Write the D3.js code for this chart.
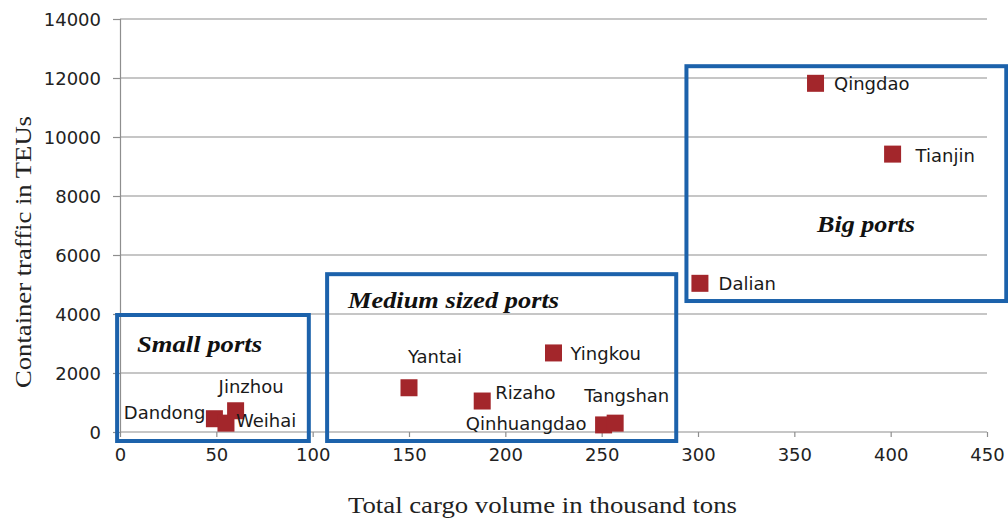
<!DOCTYPE html>
<html>
<head>
<meta charset="utf-8">
<script src="https://cdn.jsdelivr.net/npm/d3@7"></script>
<style>
  html, body { margin: 0; padding: 0; background: #fff; }
  svg { display: block; }
</style>
</head>
<body>
<svg id="chart" width="1008" height="524"></svg>
<script>
// ---- data ----
const ports = ["Dandong", "Weihai", "Jinzhou", "Yantai", "Rizaho", "Yingkou", "Qinhuangdao", "Tangshan", "Qingdao", "Tianjin", "Dalian"];
const cargoVolume = [49, 55, 60, 150, 188, 225, 251, 257, 361, 401, 301];
const containerTEU = [450, 300, 720, 1500, 1050, 2680, 240, 300, 11820, 9420, 5040];
const xTicks = [0, 50, 100, 150, 200, 250, 300, 350, 400, 450];
const yTicks = [0, 2000, 4000, 6000, 8000, 10000, 12000, 14000];
const groupNames = ["Small ports", "Medium sized ports", "Big ports"];
const groupX0 = [-1.5, 107.5, 294];
const groupX1 = [98, 288.7, 460];
const groupY0 = [-305, -305, 4440];
const groupY1 = [3966, 5350, 12400];
const xTitle = "Total cargo volume in thousand tons";
const yTitle = "Container traffic in TEUs";

// ---- layout (not data) ----
const labelLayout = {
  Dandong:     { dx: -9,  dy: 0,   anchor: "end" },
  Weihai:      { dx: 10,  dy: 4,   anchor: "start" },
  Jinzhou:     { dx: -17, dy: -18, anchor: "start" },
  Yantai:      { dx: -1,  dy: -25, anchor: "start" },
  Rizaho:      { dx: 13,  dy: -2,  anchor: "start" },
  Yingkou:     { dx: 17,  dy: 7,   anchor: "start" },
  Qinhuangdao: { dx: -17, dy: 5,   anchor: "end" },
  Tangshan:    { dx: -31, dy: -21, anchor: "start" },
  Qingdao:     { dx: 18.5,dy: 7,   anchor: "start" },
  Tianjin:     { dx: 23,  dy: 8,   anchor: "start" },
  Dalian:      { dx: 18.6,dy: 7,   anchor: "start" }
};
const groupLabelLayout = [
  { x: 137, y: 352, len: 125 },
  { x: 348, y: 308, len: 211 },
  { x: 817, y: 232, len: 98 }
];

const svg = d3.select("#chart");
const x = d3.scaleLinear().domain([0, 450]).range([120, 987]);
const y = d3.scaleLinear().domain([0, 14000]).range([432, 19]);

const gridColor = "#8e8e8e";
const sans = "'DejaVu Sans', sans-serif";
const serif = "'Liberation Serif', 'Times New Roman', serif";

// gridlines
svg.append("g").selectAll("line").data(yTicks.filter(d => d !== 0)).join("line")
  .attr("x1", x(0)).attr("x2", x(450))
  .attr("y1", d => y(d)).attr("y2", d => y(d))
  .attr("stroke", gridColor).attr("stroke-width", 1.2);

// y axis
const yAxis = d3.axisLeft(y).tickValues(yTicks).tickSize(7).tickPadding(12).tickFormat(d3.format("d"));
const gy = svg.append("g").attr("transform", `translate(${x(0)},0)`).call(yAxis);
gy.select(".domain").attr("stroke", gridColor).attr("stroke-width", 1.2);
gy.selectAll(".tick line").attr("stroke", gridColor).attr("stroke-width", 1.2);
gy.selectAll(".tick text").attr("font-family", sans).attr("font-size", 18).attr("fill", "#222").attr("dy", "0.36em");

// x axis
const xAxis = d3.axisBottom(x).tickValues(xTicks).tickSize(5).tickPadding(24).tickFormat(d3.format("d"));
const gx = svg.append("g").attr("transform", `translate(0,${y(0)})`).call(xAxis);
gx.select(".domain").attr("stroke", gridColor).attr("stroke-width", 1.2).attr("d", `M${x(0)},0H${x(450)}`);
gx.selectAll(".tick line").attr("stroke", gridColor).attr("stroke-width", 1.2);
gx.selectAll(".tick text").attr("font-family", sans).attr("font-size", 18).attr("fill", "#222").attr("dy", "0");

// group boxes
const groups = groupNames.map((n, i) => ({ name: n, x0: groupX0[i], x1: groupX1[i], y0: groupY0[i], y1: groupY1[i], pos: groupLabelLayout[i] }));
svg.append("g").selectAll("rect").data(groups).join("rect")
  .attr("x", d => x(d.x0)).attr("y", d => y(d.y1))
  .attr("width", d => x(d.x1) - x(d.x0)).attr("height", d => y(d.y0) - y(d.y1))
  .attr("fill", "none").attr("stroke", "#1c62ab").attr("stroke-width", 4);

svg.append("g").selectAll("text").data(groups).join("text")
  .attr("x", d => d.pos.x).attr("y", d => d.pos.y)
  .attr("textLength", d => d.pos.len).attr("lengthAdjust", "spacingAndGlyphs")
  .attr("font-family", serif).attr("font-size", 24).attr("font-weight", "bold").attr("font-style", "italic")
  .attr("fill", "#111").text(d => d.name);

// points
const pts = ports.map((p, i) => ({ name: p, cx: cargoVolume[i], cy: containerTEU[i] }));
const sz = 17;
svg.append("g").selectAll("rect").data(pts).join("rect")
  .attr("x", d => x(d.cx) - sz / 2).attr("y", d => y(d.cy) - sz / 2)
  .attr("width", sz).attr("height", sz).attr("fill", "#a3262b");

svg.append("g").selectAll("text").data(pts).join("text")
  .attr("x", d => x(d.cx) + labelLayout[d.name].dx)
  .attr("y", d => y(d.cy) + labelLayout[d.name].dy)
  .attr("text-anchor", d => labelLayout[d.name].anchor)
  .attr("font-family", sans).attr("font-size", 18).attr("fill", "#1a1a1a")
  .text(d => d.name);

// axis titles
svg.append("text").attr("x", 348).attr("y", 513)
  .attr("textLength", 389).attr("lengthAdjust", "spacingAndGlyphs")
  .attr("font-family", serif).attr("font-size", 24).attr("fill", "#222").text(xTitle);
svg.append("text").attr("transform", "translate(31,388) rotate(-90)")
  .attr("textLength", 272).attr("lengthAdjust", "spacingAndGlyphs")
  .attr("font-family", serif).attr("font-size", 24).attr("fill", "#222").text(yTitle);
</script>
</body>
</html>
